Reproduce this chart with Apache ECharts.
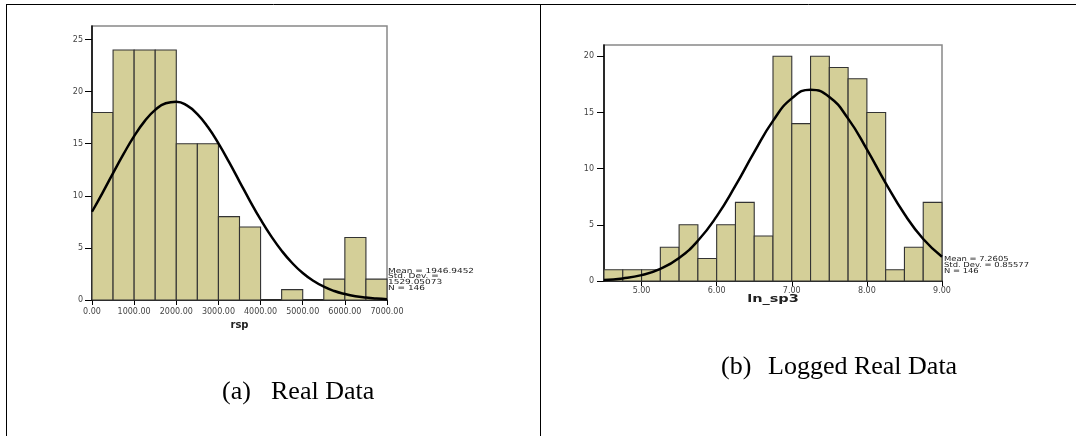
<!DOCTYPE html>
<html>
<head>
<meta charset="utf-8">
<script src="https://cdn.jsdelivr.net/npm/echarts@6/dist/echarts.min.js"></script>
<style>
html,body{margin:0;padding:0;background:#fff;}
#c{width:1076px;height:436px;}
</style>
</head>
<body>
<div id="c"></div>
<script>
// ---- Data (a) Real Data: rsp ----
const leftEdges = [0,500,1000,1500,2000,2500,3000,3500,4000,4500,5000,5500,6000,6500,7000];
const leftCounts = [18,24,24,24,15,15,8,7,0,1,0,2,6,2];
const leftCurveX = [0,250,500,750,1000,1250,1500,1750,2000,2250,2500,2750,3000,3250,3500,3750,4000,4250,4500,4750,5000,5250,5500,5750,6000,6250,6500,6750,7000];
const leftCurveY = [8.47,10.29,12.18,14.02,15.73,17.17,18.25,18.89,19.04,18.68,17.84,16.60,15.03,13.25,11.37,9.50,7.73,6.13,4.73,3.55,2.59,1.85,1.28,0.86,0.57,0.36,0.23,0.14,0.08];
const leftStats = ['Mean = 1946.9452','Std. Dev. =','1529.05073','N = 146'];
const leftXName = 'rsp';
const leftCaptionTag = '(a)';
const leftCaption = 'Real Data';

// ---- Data (b) Logged Real Data: ln_sp3 ----
const rightEdges = [4.5,4.75,5.0,5.25,5.5,5.75,6.0,6.25,6.5,6.75,7.0,7.25,7.5,7.75,8.0,8.25,8.5,8.75,9.0];
const rightCounts = [1,1,1,3,5,2,5,7,4,20,14,20,19,18,15,1,3,7];
const rightCurveX = [4.5,4.75,5.0,5.25,5.5,5.75,6.0,6.25,6.5,6.75,7.0,7.25,7.5,7.75,8.0,8.25,8.5,8.75,9.0];
const rightCurveY = [0.09,0.23,0.52,1.08,2.05,3.58,5.75,8.48,11.47,14.25,16.25,17.02,16.37,14.45,11.72,8.72,5.96,3.74,2.16];
const rightXTicks = [5,6,7,8,9];
const rightStats = ['Mean = 7.2605','Std. Dev. = 0.85577','N = 146'];
const rightXName = 'ln_sp3';
const rightCaptionTag = '(b)';
const rightCaption = 'Logged Real Data';

// ---- Build ----
const BAR_FILL = '#d4cf98';
const BAR_STROKE = '#333';
const LABEL_FONT = 'DejaVu Sans';

function binData(edges, counts){
  return counts.map((c,i)=>[edges[i], edges[i+1], c]);
}
function zip(xs, ys){ return xs.map((x,i)=>[x, ys[i]]); }

function renderBin(params, api){
  const c = api.value(2);
  if (!c) return null;
  const p0 = api.coord([api.value(0), c]);
  const p1 = api.coord([api.value(1), 0]);
  return {
    type:'rect',
    shape:{x:p0[0], y:p0[1], width:p1[0]-p0[0], height:p1[1]-p0[1]},
    style:{fill:BAR_FILL, stroke:BAR_STROKE, lineWidth:1.1}
  };
}

const axisLabelStyle = {color:'#444', fontSize:8, fontFamily:LABEL_FONT};
const axisLineStyle = {show:true, lineStyle:{color:'#000', width:1.5}};
function tickStyle(len){ return {show:true, length:len, lineStyle:{color:'#000', width:1}}; }

function statsGraphics(lines, x, y0, step, sx){
  return lines.map((t,i)=>({
    type:'text', x:x, y:y0 + i*step, scaleX:sx,
    style:{text:t, fill:'#222', font:'7px "DejaVu Sans"', verticalAlign:'middle', align:'left'}
  }));
}
function caption(text, x, y){
  return {type:'text', x:x, y:y,
    style:{text:text, fill:'#000', font:'26px "Liberation Serif"', verticalAlign:'middle', align:'left'}};
}
function line(x1,y1,x2,y2){
  return {type:'line', shape:{x1,y1,x2,y2}, style:{stroke:'#000', lineWidth:1}};
}

const option = {
  animation:false,
  backgroundColor:'#fff',
  grid:[
    {left:92, right:1076-387, top:26, bottom:436-300, show:true, borderColor:'#888', borderWidth:1.5, backgroundColor:'transparent'},
    {left:604, right:1076-942, top:45, bottom:436-281, show:true, borderColor:'#888', borderWidth:1.5, backgroundColor:'transparent'}
  ],
  xAxis:[
    {type:'value', gridIndex:0, min:0, max:7000, interval:1000,
     axisLine:axisLineStyle, axisTick:tickStyle(5), splitLine:{show:false},
     axisLabel:Object.assign({margin:8, formatter:v=>v.toFixed(2)}, axisLabelStyle),
     name:leftXName, nameLocation:'middle', nameGap:16,
     nameTextStyle:{fontSize:10, fontWeight:'bold', fontFamily:LABEL_FONT, color:'#222'}},
    {type:'value', gridIndex:1, min:4.5, max:9,
     axisLine:axisLineStyle,
     axisTick:Object.assign(tickStyle(5), {customValues:rightXTicks}),
     splitLine:{show:false},
     axisLabel:Object.assign({margin:6, customValues:rightXTicks, formatter:v=>v.toFixed(2)}, axisLabelStyle)}
  ],
  yAxis:[
    {type:'value', gridIndex:0, min:0, max:26.3, interval:5,
     axisLine:axisLineStyle, axisTick:tickStyle(7), splitLine:{show:false},
     axisLabel:Object.assign({margin:9, showMaxLabel:false}, axisLabelStyle)},
    {type:'value', gridIndex:1, min:0, max:21, interval:5,
     axisLine:axisLineStyle, axisTick:tickStyle(7), splitLine:{show:false},
     axisLabel:Object.assign({margin:10, showMaxLabel:false}, axisLabelStyle)}
  ],
  series:[
    {type:'custom', xAxisIndex:0, yAxisIndex:0, data:binData(leftEdges,leftCounts),
     encode:{x:[0,1], y:2}, renderItem:renderBin, z:2},
    {type:'line', xAxisIndex:0, yAxisIndex:0, data:zip(leftCurveX,leftCurveY),
     smooth:true, showSymbol:false, symbol:'none', lineStyle:{color:'#000', width:2.5}, z:3},
    {type:'custom', xAxisIndex:1, yAxisIndex:1, data:binData(rightEdges,rightCounts),
     encode:{x:[0,1], y:2}, renderItem:renderBin, z:2},
    {type:'line', xAxisIndex:1, yAxisIndex:1, data:zip(rightCurveX,rightCurveY),
     smooth:true, showSymbol:false, symbol:'none', lineStyle:{color:'#000', width:2.5}, z:3}
  ],
  graphic:[].concat(
    [line(6,4.5,1076,4.5), line(6.5,4,6.5,436), line(540.5,4,540.5,436)],
    [{type:'text', x:773, y:299.5, scaleX:1.45,
      style:{text:rightXName, fill:'#222', font:'bold 10px "DejaVu Sans"', verticalAlign:'middle', align:'center'}}],
    statsGraphics(leftStats, 388, 271, 5.6, 1.28),
    statsGraphics(rightStats, 944, 259, 6.3, 1.2),
    [caption(leftCaptionTag, 222, 392), caption(leftCaption, 271, 392),
     caption(rightCaptionTag, 721, 367), caption(rightCaption, 768, 367)]
  )
};

const chart = echarts.init(document.getElementById('c'), null, {renderer:'canvas'});
chart.setOption(option);
</script>
</body>
</html>
